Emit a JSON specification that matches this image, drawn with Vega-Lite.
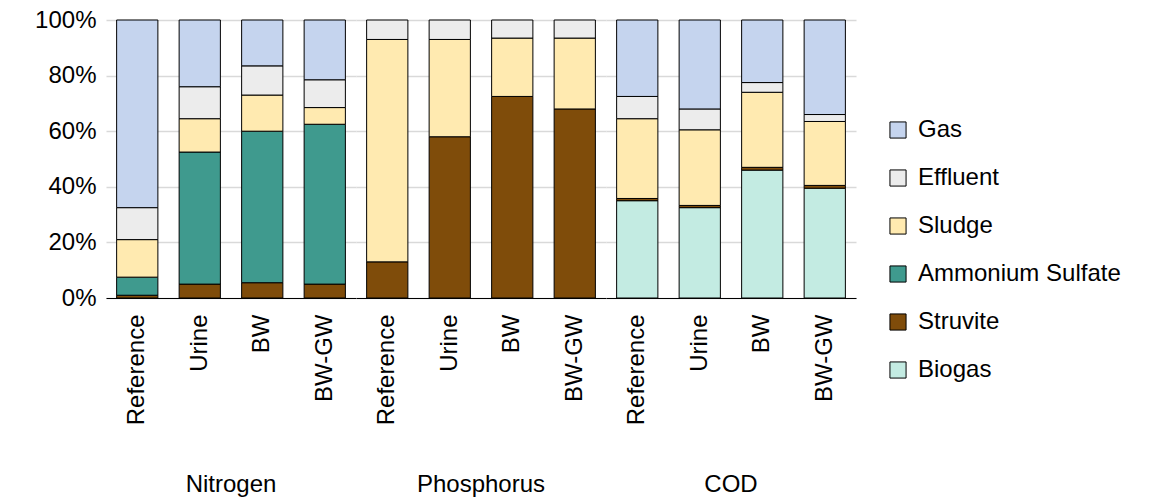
{
  "$schema": "https://vega.github.io/schema/vega-lite/v6.json",
  "background": "white",
  "padding": {"left": 10, "top": 8, "right": 5, "bottom": 0},
  "data": {
    "values": [
      {"g": "Nitrogen", "s": "Reference", "c": "Struvite", "v": 1},
      {"g": "Nitrogen", "s": "Reference", "c": "Ammonium Sulfate", "v": 6.5},
      {"g": "Nitrogen", "s": "Reference", "c": "Sludge", "v": 13.5},
      {"g": "Nitrogen", "s": "Reference", "c": "Effluent", "v": 11.5},
      {"g": "Nitrogen", "s": "Reference", "c": "Gas", "v": 67.5},
      {"g": "Nitrogen", "s": "Urine", "c": "Struvite", "v": 5},
      {"g": "Nitrogen", "s": "Urine", "c": "Ammonium Sulfate", "v": 47.5},
      {"g": "Nitrogen", "s": "Urine", "c": "Sludge", "v": 12},
      {"g": "Nitrogen", "s": "Urine", "c": "Effluent", "v": 11.5},
      {"g": "Nitrogen", "s": "Urine", "c": "Gas", "v": 24},
      {"g": "Nitrogen", "s": "BW", "c": "Struvite", "v": 5.5},
      {"g": "Nitrogen", "s": "BW", "c": "Ammonium Sulfate", "v": 54.5},
      {"g": "Nitrogen", "s": "BW", "c": "Sludge", "v": 13},
      {"g": "Nitrogen", "s": "BW", "c": "Effluent", "v": 10.5},
      {"g": "Nitrogen", "s": "BW", "c": "Gas", "v": 16.5},
      {"g": "Nitrogen", "s": "BW-GW", "c": "Struvite", "v": 5},
      {"g": "Nitrogen", "s": "BW-GW", "c": "Ammonium Sulfate", "v": 57.5},
      {"g": "Nitrogen", "s": "BW-GW", "c": "Sludge", "v": 6},
      {"g": "Nitrogen", "s": "BW-GW", "c": "Effluent", "v": 10},
      {"g": "Nitrogen", "s": "BW-GW", "c": "Gas", "v": 21.5},
      {"g": "Phosphorus", "s": "Reference", "c": "Struvite", "v": 13},
      {"g": "Phosphorus", "s": "Reference", "c": "Sludge", "v": 80},
      {"g": "Phosphorus", "s": "Reference", "c": "Effluent", "v": 7},
      {"g": "Phosphorus", "s": "Urine", "c": "Struvite", "v": 58},
      {"g": "Phosphorus", "s": "Urine", "c": "Sludge", "v": 35},
      {"g": "Phosphorus", "s": "Urine", "c": "Effluent", "v": 7},
      {"g": "Phosphorus", "s": "BW", "c": "Struvite", "v": 72.5},
      {"g": "Phosphorus", "s": "BW", "c": "Sludge", "v": 21},
      {"g": "Phosphorus", "s": "BW", "c": "Effluent", "v": 6.5},
      {"g": "Phosphorus", "s": "BW-GW", "c": "Struvite", "v": 68},
      {"g": "Phosphorus", "s": "BW-GW", "c": "Sludge", "v": 25.5},
      {"g": "Phosphorus", "s": "BW-GW", "c": "Effluent", "v": 6.5},
      {"g": "COD", "s": "Reference", "c": "Biogas", "v": 35},
      {"g": "COD", "s": "Reference", "c": "Struvite", "v": 0.8},
      {"g": "COD", "s": "Reference", "c": "Sludge", "v": 28.7},
      {"g": "COD", "s": "Reference", "c": "Effluent", "v": 8},
      {"g": "COD", "s": "Reference", "c": "Gas", "v": 27.5},
      {"g": "COD", "s": "Urine", "c": "Biogas", "v": 32.5},
      {"g": "COD", "s": "Urine", "c": "Struvite", "v": 0.8},
      {"g": "COD", "s": "Urine", "c": "Sludge", "v": 27.2},
      {"g": "COD", "s": "Urine", "c": "Effluent", "v": 7.5},
      {"g": "COD", "s": "Urine", "c": "Gas", "v": 32},
      {"g": "COD", "s": "BW", "c": "Biogas", "v": 46},
      {"g": "COD", "s": "BW", "c": "Struvite", "v": 1},
      {"g": "COD", "s": "BW", "c": "Sludge", "v": 27},
      {"g": "COD", "s": "BW", "c": "Effluent", "v": 3.5},
      {"g": "COD", "s": "BW", "c": "Gas", "v": 22.5},
      {"g": "COD", "s": "BW-GW", "c": "Biogas", "v": 39.5},
      {"g": "COD", "s": "BW-GW", "c": "Struvite", "v": 1},
      {"g": "COD", "s": "BW-GW", "c": "Sludge", "v": 23},
      {"g": "COD", "s": "BW-GW", "c": "Effluent", "v": 2.5},
      {"g": "COD", "s": "BW-GW", "c": "Gas", "v": 34}
    ]
  },
  "transform": [
    {"calculate": "indexof(['Biogas','Struvite','Ammonium Sulfate','Sludge','Effluent','Gas'], datum.c)", "as": "o"}
  ],
  "facet": {
    "column": {
      "field": "g", "type": "nominal", "sort": ["Nitrogen", "Phosphorus", "COD"],
      "header": {"title": null, "labelOrient": "bottom", "labelFontSize": 24, "labelFont": "Liberation Sans", "labelColor": "black", "labelPadding": 48}
    }
  },
  "spacing": 0,
  "resolve": {"scale": {"x": "independent"}},
  "spec": {
    "width": 250,
    "height": 278,
    "mark": {"type": "bar", "stroke": "black", "strokeWidth": 1},
    "encoding": {
      "x": {
        "field": "s", "type": "nominal", "sort": ["Reference", "Urine", "BW", "BW-GW"], "title": null,
        "scale": {"paddingInner": 0.34, "paddingOuter": 0.17},
        "axis": {"labelAngle": -90, "labelFontSize": 24, "labelFont": "Liberation Sans", "labelColor": "black", "ticks": false, "labelPadding": 16, "domainColor": "black", "labelBaseline": "middle"}
      },
      "y": {
        "field": "v", "type": "quantitative", "stack": "zero", "title": null,
        "scale": {"domain": [0, 100]},
        "axis": {"values": [0, 20, 40, 60, 80, 100], "labelExpr": "datum.value + '%'", "labelFontSize": 24, "labelFont": "Liberation Sans", "labelColor": "black", "domain": false, "ticks": false, "gridColor": "#d9d9d9", "gridWidth": 1.5, "labelPadding": 10}
      },
      "order": {"field": "o", "type": "quantitative"},
      "color": {
        "field": "c", "type": "nominal", "title": null,
        "scale": {
          "domain": ["Gas", "Effluent", "Sludge", "Ammonium Sulfate", "Struvite", "Biogas"],
          "range": ["#c5d4ee", "#ececec", "#ffeab0", "#3f9a8e", "#7f4c0a", "#c3ebe2"]
        },
        "legend": {"orient": "none", "legendX": 780, "legendY": 98, "labelFontSize": 24, "labelFont": "Liberation Sans", "labelColor": "black", "symbolType": "square", "symbolSize": 260, "symbolStrokeColor": "black", "symbolStrokeWidth": 1, "rowPadding": 24, "labelLimit": 300, "labelOffset": 8}
      }
    }
  },
  "config": {"view": {"stroke": null}, "axisY": {"minExtent": 96}}
}
